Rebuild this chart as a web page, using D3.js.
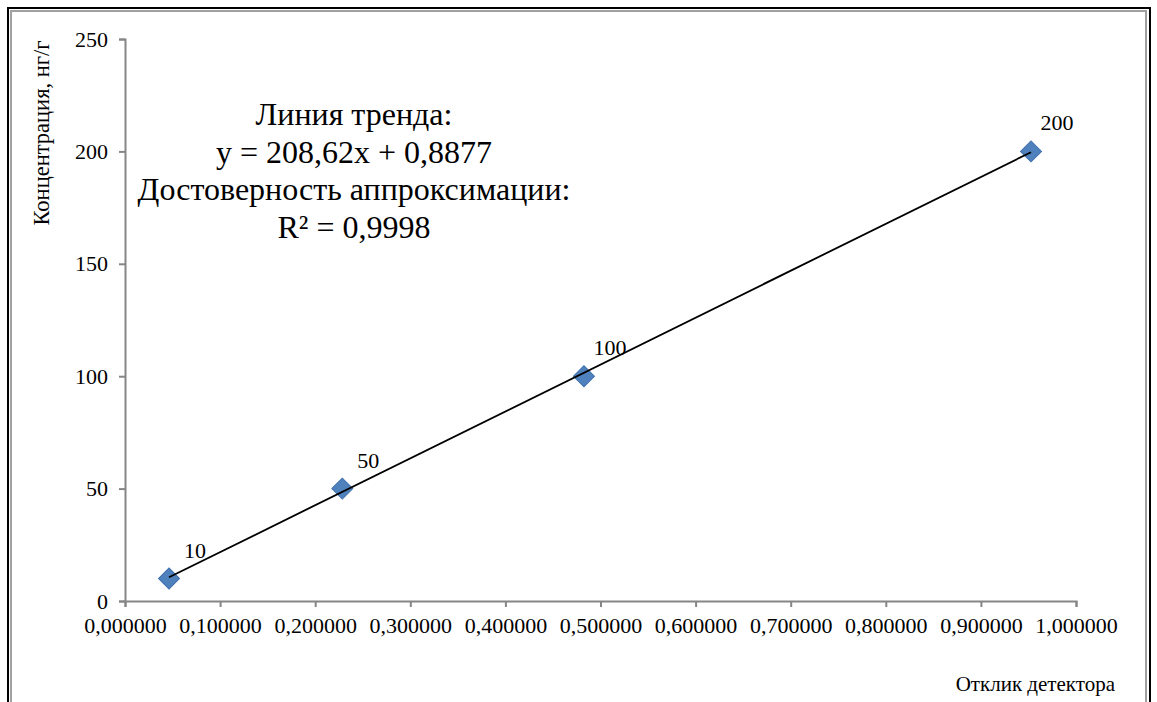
<!DOCTYPE html>
<html>
<head>
<meta charset="utf-8">
<script src="https://cdn.jsdelivr.net/npm/d3@7"></script>
<style>
  html, body { margin: 0; padding: 0; background: #fff; }
  svg { display: block; }
</style>
</head>
<body>
<svg id="chart" width="1157" height="702"></svg>
<script>
// Calibration points: detector response vs. concentration
const responses = [0.0463, 0.2285, 0.4826, 0.9527];
const concentrations = [10, 50, 100, 200];
const pointLabels = ["10", "50", "100", "200"];

// Linear trend line fitted to the calibration
const slope = 208.62;
const intercept = 0.8877;
const trendText = ["Линия тренда:", "y = 208,62x + 0,8877", "Достоверность аппроксимации:", "R² = 0,9998"];

const xTicks = [0, 0.1, 0.2, 0.3, 0.4, 0.5, 0.6, 0.7, 0.8, 0.9, 1.0];
const yTicks = [0, 50, 100, 150, 200, 250];
const xTitle = "Отклик детектора";
const yTitle = "Концентрация, нг/г";

const FONT = '"Liberation Serif", serif';
const svg = d3.select("#chart");

// Apply the serif face and size to a text selection
function serif(sel, size) {
  return sel.style("font-family", FONT).style("font-size", size + "px").attr("fill", "#000");
}

// Frame: black outer line with a grey inner line
svg.append("path").attr("d", "M8,702 V8 H1150 V702")
  .attr("fill", "none").attr("stroke", "#000").attr("stroke-width", 2);
svg.append("path").attr("d", "M11,702 V11 H1146 V702")
  .attr("fill", "none").attr("stroke", "#a0a0a0").attr("stroke-width", 2);

const x = d3.scaleLinear().domain([0, 1]).range([125, 1076]);
const y = d3.scaleLinear().domain([0, 250]).range([601, 39]);

const axisColor = "#868686";

// X axis
const xAxis = svg.append("g").attr("transform", `translate(0,${y(0)})`)
  .call(d3.axisBottom(x).tickValues(xTicks).tickSizeOuter(0).tickSize(6).tickPadding(10)
    .tickFormat(d => d3.format(".6f")(d).replace(".", ",")));
xAxis.select(".domain").attr("stroke", axisColor).attr("stroke-width", 2);
xAxis.selectAll(".tick line").attr("stroke", axisColor).attr("stroke-width", 2);
serif(xAxis.selectAll(".tick text"), 22);

// Y axis
const yAxis = svg.append("g").attr("transform", `translate(${x(0)},0)`)
  .call(d3.axisLeft(y).tickValues(yTicks).tickSizeOuter(0).tickSize(6).tickPadding(11));
yAxis.select(".domain").attr("stroke", axisColor).attr("stroke-width", 2);
yAxis.selectAll(".tick line").attr("stroke", axisColor).attr("stroke-width", 2);
serif(yAxis.selectAll(".tick text"), 22);

// Axis titles
serif(svg.append("text").attr("x", 1115).attr("y", 691).attr("text-anchor", "end"), 21).text(xTitle);
serif(svg.append("text").attr("transform", `translate(49,133) rotate(-90)`)
  .attr("text-anchor", "middle"), 22.5).text(yTitle);

// Markers
const diamond = d3.symbol().type(d3.symbolSquare).size(220);
svg.append("g").selectAll("path").data(responses).join("path")
  .attr("d", diamond)
  .attr("transform", (d, i) => `translate(${x(d)},${y(concentrations[i])}) rotate(45)`)
  .attr("fill", "#4f81bd").attr("stroke", "#3f70ad").attr("stroke-width", 1);

// Trend line across the range of the data
const xMin = d3.min(responses), xMax = d3.max(responses);
svg.append("line")
  .attr("x1", x(xMin)).attr("y1", y(slope * xMin + intercept))
  .attr("x2", x(xMax)).attr("y2", y(slope * xMax + intercept))
  .attr("stroke", "#000").attr("stroke-width", 1.8);

// Point labels
serif(svg.append("g").selectAll("text").data(responses).join("text")
  .attr("x", (d) => x(d) + 26).attr("y", (d, i) => y(concentrations[i]) - 21)
  .attr("text-anchor", "middle"), 22).text((d, i) => pointLabels[i]);

// Trend line equation
serif(svg.append("g").selectAll("text").data(trendText).join("text")
  .attr("x", 354).attr("y", (d, i) => 125 + i * 37.5)
  .attr("text-anchor", "middle"), 32).text(d => d);
</script>
</body>
</html>
